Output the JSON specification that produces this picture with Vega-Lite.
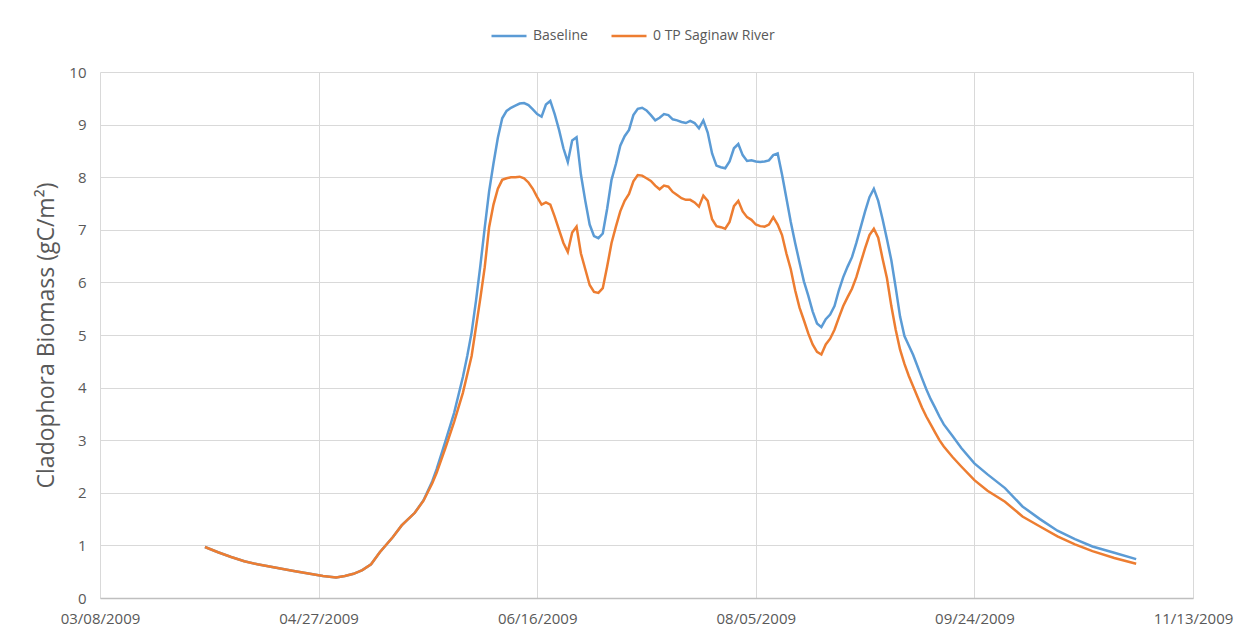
{
  "$schema": "https://vega.github.io/schema/vega-lite/v6.json",
  "width": 1093,
  "height": 526,
  "autosize": {"type": "none"},
  "padding": {"left": 100, "top": 72, "right": 58, "bottom": 39},
  "background": "white",
  "config": {
    "font": "Open Sans",
    "view": {"stroke": null},
    "axis": {
      "gridColor": "#d9d9d9",
      "gridWidth": 1,
      "ticks": false,
      "labelColor": "#595959",
      "labelFontSize": 15,
      "titleColor": "#595959"
    }
  },
  "data": {
    "values": [
      {"date": "2009-04-01", "Baseline": 0.97, "0 TP Saginaw River": 0.97},
      {"date": "2009-04-04", "Baseline": 0.87, "0 TP Saginaw River": 0.87},
      {"date": "2009-04-07", "Baseline": 0.78, "0 TP Saginaw River": 0.78},
      {"date": "2009-04-10", "Baseline": 0.70, "0 TP Saginaw River": 0.70},
      {"date": "2009-04-13", "Baseline": 0.64, "0 TP Saginaw River": 0.64},
      {"date": "2009-04-17", "Baseline": 0.58, "0 TP Saginaw River": 0.58},
      {"date": "2009-04-21", "Baseline": 0.52, "0 TP Saginaw River": 0.52},
      {"date": "2009-04-25", "Baseline": 0.46, "0 TP Saginaw River": 0.46},
      {"date": "2009-04-28", "Baseline": 0.42, "0 TP Saginaw River": 0.42},
      {"date": "2009-05-01", "Baseline": 0.39, "0 TP Saginaw River": 0.39},
      {"date": "2009-05-03", "Baseline": 0.42, "0 TP Saginaw River": 0.42},
      {"date": "2009-05-05", "Baseline": 0.46, "0 TP Saginaw River": 0.46},
      {"date": "2009-05-07", "Baseline": 0.53, "0 TP Saginaw River": 0.53},
      {"date": "2009-05-09", "Baseline": 0.64, "0 TP Saginaw River": 0.64},
      {"date": "2009-05-11", "Baseline": 0.87, "0 TP Saginaw River": 0.87},
      {"date": "2009-05-14", "Baseline": 1.16, "0 TP Saginaw River": 1.16},
      {"date": "2009-05-16", "Baseline": 1.38, "0 TP Saginaw River": 1.38},
      {"date": "2009-05-19", "Baseline": 1.62, "0 TP Saginaw River": 1.62},
      {"date": "2009-05-21", "Baseline": 1.86, "0 TP Saginaw River": 1.85},
      {"date": "2009-05-23", "Baseline": 2.22, "0 TP Saginaw River": 2.18},
      {"date": "2009-05-24", "Baseline": 2.45, "0 TP Saginaw River": 2.38},
      {"date": "2009-05-26", "Baseline": 2.98, "0 TP Saginaw River": 2.85},
      {"date": "2009-05-28", "Baseline": 3.52, "0 TP Saginaw River": 3.35},
      {"date": "2009-05-30", "Baseline": 4.20, "0 TP Saginaw River": 3.90},
      {"date": "2009-05-31", "Baseline": 4.60, "0 TP Saginaw River": 4.25},
      {"date": "2009-06-01", "Baseline": 5.05, "0 TP Saginaw River": 4.60},
      {"date": "2009-06-02", "Baseline": 5.65, "0 TP Saginaw River": 5.15},
      {"date": "2009-06-03", "Baseline": 6.32, "0 TP Saginaw River": 5.70},
      {"date": "2009-06-04", "Baseline": 7.04, "0 TP Saginaw River": 6.29},
      {"date": "2009-06-05", "Baseline": 7.73, "0 TP Saginaw River": 7.05},
      {"date": "2009-06-06", "Baseline": 8.26, "0 TP Saginaw River": 7.48},
      {"date": "2009-06-07", "Baseline": 8.75, "0 TP Saginaw River": 7.78},
      {"date": "2009-06-08", "Baseline": 9.12, "0 TP Saginaw River": 7.95},
      {"date": "2009-06-09", "Baseline": 9.26, "0 TP Saginaw River": 7.98},
      {"date": "2009-06-10", "Baseline": 9.32, "0 TP Saginaw River": 8.00},
      {"date": "2009-06-11", "Baseline": 9.36, "0 TP Saginaw River": 8.00},
      {"date": "2009-06-12", "Baseline": 9.40, "0 TP Saginaw River": 8.01},
      {"date": "2009-06-13", "Baseline": 9.41, "0 TP Saginaw River": 7.98},
      {"date": "2009-06-14", "Baseline": 9.37, "0 TP Saginaw River": 7.90},
      {"date": "2009-06-15", "Baseline": 9.29, "0 TP Saginaw River": 7.78},
      {"date": "2009-06-16", "Baseline": 9.20, "0 TP Saginaw River": 7.62},
      {"date": "2009-06-17", "Baseline": 9.15, "0 TP Saginaw River": 7.48},
      {"date": "2009-06-18", "Baseline": 9.38, "0 TP Saginaw River": 7.52},
      {"date": "2009-06-19", "Baseline": 9.45, "0 TP Saginaw River": 7.48},
      {"date": "2009-06-20", "Baseline": 9.20, "0 TP Saginaw River": 7.25},
      {"date": "2009-06-21", "Baseline": 8.90, "0 TP Saginaw River": 7.00},
      {"date": "2009-06-22", "Baseline": 8.55, "0 TP Saginaw River": 6.75},
      {"date": "2009-06-23", "Baseline": 8.29, "0 TP Saginaw River": 6.58},
      {"date": "2009-06-24", "Baseline": 8.70, "0 TP Saginaw River": 6.95},
      {"date": "2009-06-25", "Baseline": 8.76, "0 TP Saginaw River": 7.06},
      {"date": "2009-06-26", "Baseline": 8.05, "0 TP Saginaw River": 6.55},
      {"date": "2009-06-27", "Baseline": 7.55, "0 TP Saginaw River": 6.25},
      {"date": "2009-06-28", "Baseline": 7.10, "0 TP Saginaw River": 5.95},
      {"date": "2009-06-29", "Baseline": 6.88, "0 TP Saginaw River": 5.82},
      {"date": "2009-06-30", "Baseline": 6.84, "0 TP Saginaw River": 5.80},
      {"date": "2009-07-01", "Baseline": 6.93, "0 TP Saginaw River": 5.89},
      {"date": "2009-07-02", "Baseline": 7.40, "0 TP Saginaw River": 6.30},
      {"date": "2009-07-03", "Baseline": 7.95, "0 TP Saginaw River": 6.75},
      {"date": "2009-07-04", "Baseline": 8.25, "0 TP Saginaw River": 7.06},
      {"date": "2009-07-05", "Baseline": 8.60, "0 TP Saginaw River": 7.35},
      {"date": "2009-07-06", "Baseline": 8.78, "0 TP Saginaw River": 7.55},
      {"date": "2009-07-07", "Baseline": 8.90, "0 TP Saginaw River": 7.68},
      {"date": "2009-07-08", "Baseline": 9.18, "0 TP Saginaw River": 7.92},
      {"date": "2009-07-09", "Baseline": 9.30, "0 TP Saginaw River": 8.04},
      {"date": "2009-07-10", "Baseline": 9.32, "0 TP Saginaw River": 8.03},
      {"date": "2009-07-11", "Baseline": 9.27, "0 TP Saginaw River": 7.98},
      {"date": "2009-07-12", "Baseline": 9.18, "0 TP Saginaw River": 7.93},
      {"date": "2009-07-13", "Baseline": 9.08, "0 TP Saginaw River": 7.84},
      {"date": "2009-07-14", "Baseline": 9.13, "0 TP Saginaw River": 7.77},
      {"date": "2009-07-15", "Baseline": 9.20, "0 TP Saginaw River": 7.84},
      {"date": "2009-07-16", "Baseline": 9.18, "0 TP Saginaw River": 7.82},
      {"date": "2009-07-17", "Baseline": 9.10, "0 TP Saginaw River": 7.72},
      {"date": "2009-07-18", "Baseline": 9.08, "0 TP Saginaw River": 7.66},
      {"date": "2009-07-19", "Baseline": 9.05, "0 TP Saginaw River": 7.60},
      {"date": "2009-07-20", "Baseline": 9.03, "0 TP Saginaw River": 7.57},
      {"date": "2009-07-21", "Baseline": 9.07, "0 TP Saginaw River": 7.57},
      {"date": "2009-07-22", "Baseline": 9.03, "0 TP Saginaw River": 7.52},
      {"date": "2009-07-23", "Baseline": 8.93, "0 TP Saginaw River": 7.44},
      {"date": "2009-07-24", "Baseline": 9.08, "0 TP Saginaw River": 7.65},
      {"date": "2009-07-25", "Baseline": 8.85, "0 TP Saginaw River": 7.55},
      {"date": "2009-07-26", "Baseline": 8.45, "0 TP Saginaw River": 7.20},
      {"date": "2009-07-27", "Baseline": 8.22, "0 TP Saginaw River": 7.07},
      {"date": "2009-07-28", "Baseline": 8.19, "0 TP Saginaw River": 7.05},
      {"date": "2009-07-29", "Baseline": 8.17, "0 TP Saginaw River": 7.02},
      {"date": "2009-07-30", "Baseline": 8.30, "0 TP Saginaw River": 7.15},
      {"date": "2009-07-31", "Baseline": 8.55, "0 TP Saginaw River": 7.45},
      {"date": "2009-08-01", "Baseline": 8.63, "0 TP Saginaw River": 7.55},
      {"date": "2009-08-02", "Baseline": 8.42, "0 TP Saginaw River": 7.35},
      {"date": "2009-08-03", "Baseline": 8.31, "0 TP Saginaw River": 7.24},
      {"date": "2009-08-04", "Baseline": 8.32, "0 TP Saginaw River": 7.19},
      {"date": "2009-08-05", "Baseline": 8.30, "0 TP Saginaw River": 7.10},
      {"date": "2009-08-06", "Baseline": 8.29, "0 TP Saginaw River": 7.07},
      {"date": "2009-08-07", "Baseline": 8.30, "0 TP Saginaw River": 7.06},
      {"date": "2009-08-08", "Baseline": 8.32, "0 TP Saginaw River": 7.10},
      {"date": "2009-08-09", "Baseline": 8.42, "0 TP Saginaw River": 7.24},
      {"date": "2009-08-10", "Baseline": 8.45, "0 TP Saginaw River": 7.10},
      {"date": "2009-08-11", "Baseline": 8.05, "0 TP Saginaw River": 6.90},
      {"date": "2009-08-12", "Baseline": 7.60, "0 TP Saginaw River": 6.55},
      {"date": "2009-08-13", "Baseline": 7.15, "0 TP Saginaw River": 6.25},
      {"date": "2009-08-14", "Baseline": 6.75, "0 TP Saginaw River": 5.85},
      {"date": "2009-08-15", "Baseline": 6.38, "0 TP Saginaw River": 5.52},
      {"date": "2009-08-16", "Baseline": 6.02, "0 TP Saginaw River": 5.28},
      {"date": "2009-08-17", "Baseline": 5.75, "0 TP Saginaw River": 5.03},
      {"date": "2009-08-18", "Baseline": 5.45, "0 TP Saginaw River": 4.82},
      {"date": "2009-08-19", "Baseline": 5.22, "0 TP Saginaw River": 4.68},
      {"date": "2009-08-20", "Baseline": 5.15, "0 TP Saginaw River": 4.63},
      {"date": "2009-08-21", "Baseline": 5.30, "0 TP Saginaw River": 4.82},
      {"date": "2009-08-22", "Baseline": 5.39, "0 TP Saginaw River": 4.93},
      {"date": "2009-08-23", "Baseline": 5.55, "0 TP Saginaw River": 5.10},
      {"date": "2009-08-24", "Baseline": 5.85, "0 TP Saginaw River": 5.33},
      {"date": "2009-08-25", "Baseline": 6.10, "0 TP Saginaw River": 5.55},
      {"date": "2009-08-26", "Baseline": 6.30, "0 TP Saginaw River": 5.72},
      {"date": "2009-08-27", "Baseline": 6.48, "0 TP Saginaw River": 5.88},
      {"date": "2009-08-28", "Baseline": 6.75, "0 TP Saginaw River": 6.10},
      {"date": "2009-08-29", "Baseline": 7.05, "0 TP Saginaw River": 6.38},
      {"date": "2009-08-30", "Baseline": 7.35, "0 TP Saginaw River": 6.65},
      {"date": "2009-08-31", "Baseline": 7.62, "0 TP Saginaw River": 6.90},
      {"date": "2009-09-01", "Baseline": 7.78, "0 TP Saginaw River": 7.02},
      {"date": "2009-09-02", "Baseline": 7.55, "0 TP Saginaw River": 6.85},
      {"date": "2009-09-03", "Baseline": 7.20, "0 TP Saginaw River": 6.45},
      {"date": "2009-09-04", "Baseline": 6.82, "0 TP Saginaw River": 6.08},
      {"date": "2009-09-05", "Baseline": 6.42, "0 TP Saginaw River": 5.55},
      {"date": "2009-09-06", "Baseline": 5.90, "0 TP Saginaw River": 5.10},
      {"date": "2009-09-07", "Baseline": 5.35, "0 TP Saginaw River": 4.72},
      {"date": "2009-09-08", "Baseline": 4.98, "0 TP Saginaw River": 4.45},
      {"date": "2009-09-09", "Baseline": 4.80, "0 TP Saginaw River": 4.22},
      {"date": "2009-09-10", "Baseline": 4.62, "0 TP Saginaw River": 4.02},
      {"date": "2009-09-11", "Baseline": 4.40, "0 TP Saginaw River": 3.82},
      {"date": "2009-09-12", "Baseline": 4.18, "0 TP Saginaw River": 3.62},
      {"date": "2009-09-13", "Baseline": 3.97, "0 TP Saginaw River": 3.45},
      {"date": "2009-09-14", "Baseline": 3.78, "0 TP Saginaw River": 3.30},
      {"date": "2009-09-15", "Baseline": 3.62, "0 TP Saginaw River": 3.15},
      {"date": "2009-09-16", "Baseline": 3.45, "0 TP Saginaw River": 3.00},
      {"date": "2009-09-17", "Baseline": 3.30, "0 TP Saginaw River": 2.88},
      {"date": "2009-09-19", "Baseline": 3.08, "0 TP Saginaw River": 2.68},
      {"date": "2009-09-21", "Baseline": 2.85, "0 TP Saginaw River": 2.50},
      {"date": "2009-09-24", "Baseline": 2.56, "0 TP Saginaw River": 2.24},
      {"date": "2009-09-27", "Baseline": 2.35, "0 TP Saginaw River": 2.04},
      {"date": "2009-10-01", "Baseline": 2.09, "0 TP Saginaw River": 1.83},
      {"date": "2009-10-05", "Baseline": 1.74, "0 TP Saginaw River": 1.55},
      {"date": "2009-10-09", "Baseline": 1.50, "0 TP Saginaw River": 1.36},
      {"date": "2009-10-13", "Baseline": 1.28, "0 TP Saginaw River": 1.17},
      {"date": "2009-10-17", "Baseline": 1.12, "0 TP Saginaw River": 1.02},
      {"date": "2009-10-21", "Baseline": 0.98, "0 TP Saginaw River": 0.89},
      {"date": "2009-10-26", "Baseline": 0.86, "0 TP Saginaw River": 0.76},
      {"date": "2009-10-31", "Baseline": 0.74, "0 TP Saginaw River": 0.65}
    ]
  },
  "transform": [
    {"fold": ["Baseline", "0 TP Saginaw River"], "as": ["series", "value"]}
  ],
  "mark": {"type": "line", "strokeWidth": 2.5},
  "encoding": {
    "x": {
      "field": "date",
      "type": "temporal",
      "scale": {
        "type": "utc",
        "domain": [
          {"year": 2009, "month": 3, "date": 8, "utc": true},
          {"year": 2009, "month": 11, "date": 13, "utc": true}
        ]
      },
      "axis": {
        "title": null,
        "values": [
          {"year": 2009, "month": 3, "date": 8, "utc": true},
          {"year": 2009, "month": 4, "date": 27, "utc": true},
          {"year": 2009, "month": 6, "date": 16, "utc": true},
          {"year": 2009, "month": 8, "date": 5, "utc": true},
          {"year": 2009, "month": 9, "date": 24, "utc": true},
          {"year": 2009, "month": 11, "date": 13, "utc": true}
        ],
        "format": "%m/%d/%Y",
        "labelFlush": false,
        "labelOverlap": false,
        "labelPadding": 13,
        "domainColor": "#bfbfbf",
        "domainWidth": 1.5,
        "grid": true
      }
    },
    "y": {
      "field": "value",
      "type": "quantitative",
      "scale": {"domain": [0, 10], "nice": false},
      "axis": {
        "title": "Cladophora Biomass (gC/m²)",
        "titleFontSize": 23,
        "titleFontWeight": "normal",
        "titlePadding": 10,
        "values": [0, 1, 2, 3, 4, 5, 6, 7, 8, 9, 10],
        "labelPadding": 14,
        "domain": false,
        "grid": true
      }
    },
    "color": {
      "field": "series",
      "type": "nominal",
      "scale": {
        "domain": ["Baseline", "0 TP Saginaw River"],
        "range": ["#5B9BD5", "#ED7D31"]
      },
      "legend": {
        "title": null,
        "orient": "none",
        "legendX": 390,
        "legendY": -55,
        "direction": "horizontal",
        "symbolType": "stroke",
        "symbolSize": 1225,
        "symbolStrokeWidth": 2.5,
        "labelFontSize": 14,
        "labelColor": "#595959",
        "labelOffset": 5,
        "columnPadding": 18
      }
    }
  }
}
